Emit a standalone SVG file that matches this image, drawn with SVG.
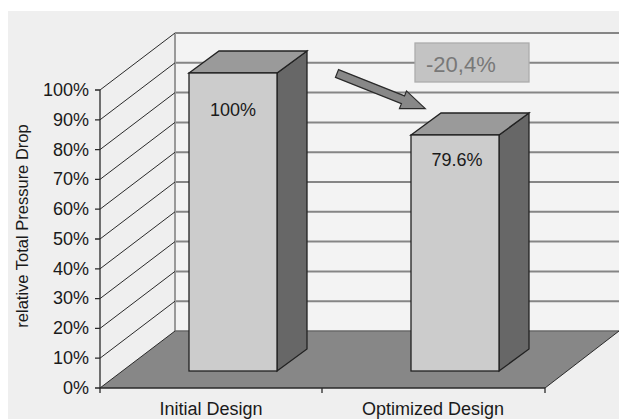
<svg xmlns="http://www.w3.org/2000/svg" width="619" height="419" viewBox="0 0 619 419">
  <style>
    text { font-family: "Liberation Sans", Arial, sans-serif; fill: #1a1a1a; }
    .tick { font-size: 18px; text-anchor: end; }
    .cat { font-size: 18px; text-anchor: middle; }
    .val { font-size: 18px; text-anchor: middle; }
    .grid { stroke: #858585; stroke-width: 2; fill: none; }
    .side { stroke: #2a2a2a; stroke-width: 1; fill: none; }
    .axis { stroke: #2a2a2a; stroke-width: 1.3; fill: none; }
    .front { fill: #cccccc; stroke: #222; stroke-width: 1.3; }
    .top { fill: #9a9a9a; stroke: #222; stroke-width: 1.3; }
    .right { fill: #676767; stroke: #222; stroke-width: 1.3; }
  </style>

  <!-- chart background -->
  <rect x="0" y="0" width="619" height="419" fill="#ffffff"/>
  <rect x="8" y="11" width="611" height="408" fill="#efefef"/>

  <!-- back wall -->
  <rect x="175" y="33" width="444" height="298" fill="#f3f3f3"/>

  <!-- back wall gridlines -->
  <g id="gridlines">
    <path class="grid" d="M175 33H619M175 62.8H619M175 92.6H619M175 122.4H619M175 152.2H619M175 182H619M175 211.8H619M175 241.6H619M175 271.4H619M175 301.2H619"/>
    <path d="M175 33V331" stroke="#999" stroke-width="2"/>
  </g>

  <!-- side wall gridlines -->
  <g id="side-wall">
    <path class="side" d="M100 90L175 33M100 119.8L175 62.8M100 149.6L175 92.6M100 179.4L175 122.4M100 209.2L175 152.2M100 239L175 182M100 268.8L175 211.8M100 298.6L175 241.6M100 328.4L175 271.4M100 358.2L175 301.2"/>
  </g>

  <!-- floor -->
  <g id="floor">
    <polygon points="100,388 175,331 619,331 545,388" fill="#878787"/>
    <path d="M175 331H619" stroke="#6a6a6a" stroke-width="1.5"/>
    <path d="M100 388L175 331M545 388L619 331" stroke="#2a2a2a" stroke-width="1"/>
  </g>

  <!-- value axis -->
  <g id="value-axis">
    <path class="axis" d="M100 90V388H545"/>
    <path class="axis" d="M95 90H100M95 119.8H100M95 149.6H100M95 179.4H100M95 209.2H100M95 239H100M95 268.8H100M95 298.6H100M95 328.4H100M95 358.2H100M95 388H100"/>
    <path class="axis" d="M100 388V393M322 388V393M545 388V393"/>
    <text class="tick" x="89" y="96">100%</text>
    <text class="tick" x="89" y="126">90%</text>
    <text class="tick" x="89" y="156">80%</text>
    <text class="tick" x="89" y="185">70%</text>
    <text class="tick" x="89" y="215">60%</text>
    <text class="tick" x="89" y="245">50%</text>
    <text class="tick" x="89" y="275">40%</text>
    <text class="tick" x="89" y="304">30%</text>
    <text class="tick" x="89" y="334">20%</text>
    <text class="tick" x="89" y="364">10%</text>
    <text class="tick" x="89" y="394">0%</text>
    <text x="0" y="0" font-size="16.5" text-anchor="middle" transform="translate(28 226) rotate(-90)">relative Total Pressure Drop</text>
  </g>

  <!-- category labels -->
  <g id="categories">
    <text class="cat" x="211" y="415">Initial Design</text>
    <text class="cat" x="433" y="415">Optimized Design</text>
  </g>

  <!-- bar: Initial Design -->
  <g id="bar-initial">
    <polygon class="right" points="277,73 307,51 307,349 277,371"/>
    <polygon class="top" points="189,73 219,51 307,51 277,73"/>
    <rect class="front" x="189" y="73" width="88" height="298"/>
    <text class="val" x="233" y="116">100%</text>
  </g>

  <!-- bar: Optimized Design -->
  <g id="bar-optimized">
    <polygon class="right" points="499,135 529,113 529,349 499,371"/>
    <polygon class="top" points="411,135 441,113 529,113 499,135"/>
    <rect class="front" x="411" y="135" width="88" height="236"/>
    <text class="val" x="457" y="166">79.6%</text>
  </g>

  <!-- reduction callout -->
  <g id="reduction-label">
    <rect x="415" y="43" width="114" height="39" fill="#c3c3c3" stroke="#acacac" stroke-width="1.3"/>
    <text x="426" y="72" font-size="22" style="fill:#787878">-20,4%</text>
  </g>

  <!-- connectors -->
  <g id="connectors">
    <polygon points="0,-4.2 71,-4.2 71,-9.5 95,0 71,9.5 71,4.2 0,4.2" fill="#888" stroke="#2a2a2a" stroke-width="1.2" stroke-linejoin="miter" transform="translate(337 73.5) rotate(21.7)"/>
  </g>
</svg>
